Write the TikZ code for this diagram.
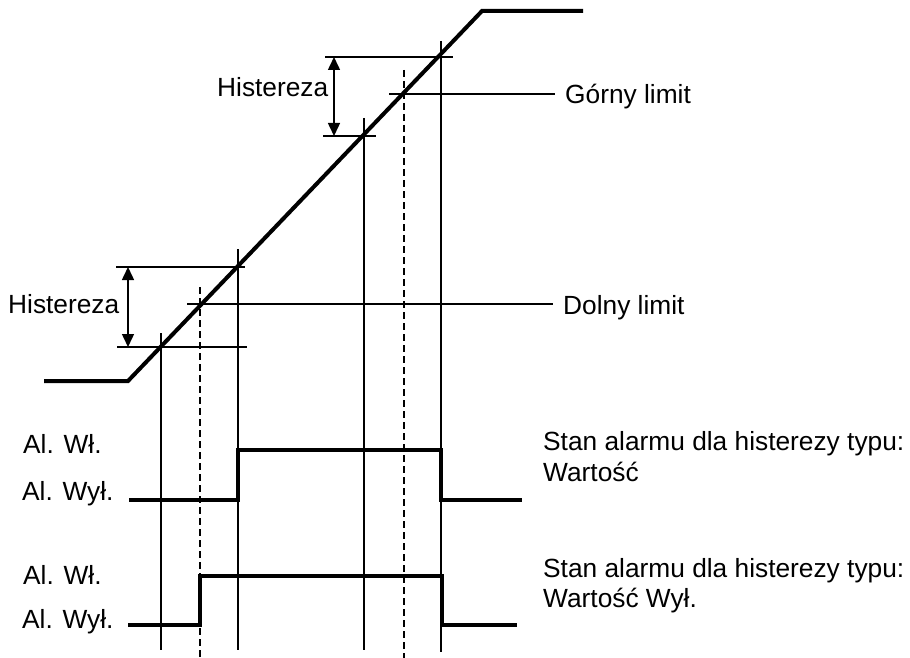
\documentclass[tikz,border=0pt]{standalone}
\usepackage{fontspec}
\setmainfont{Liberation Sans}
\usetikzlibrary{arrows.meta}
\begin{document}
\begin{tikzpicture}[x=1pt,y=-1pt,
  thin line/.style={line width=1.5pt,black},
  curve/.style={line width=4pt,black,line join=miter},
  signal/.style={line width=3.2pt,black,line join=miter},
  dash line/.style={line width=1.5pt,black,dash pattern=on 7pt off 4pt},
  dim/.style={line width=1.5pt,black,{Triangle[length=13pt,width=12pt]}-{Triangle[length=13pt,width=12pt]}},
  lbl/.style={anchor=base west,inner sep=0pt,font=\fontsize{26.3}{31}\selectfont}]
\useasboundingbox (0,0) rectangle (910,658);
% coordinates
\coordinate (c0) at (44,381);
\coordinate (c1) at (128,381);
\coordinate (c2) at (482,11);
\coordinate (c3) at (583,11);
% main curve
\draw[curve] (c0) -- (c1) -- (c2) -- (c3);
% vertical lines
\coordinate (v1t) at (161,333); \coordinate (v1b) at (161,650);
\coordinate (v2t) at (200,287); \coordinate (v2b) at (200,658);
\coordinate (v3t) at (238,249); \coordinate (v3b) at (238,650);
\coordinate (v4t) at (364,118); \coordinate (v4b) at (364,650);
\coordinate (v5t) at (404,70);  \coordinate (v5b) at (404,658);
\coordinate (v6t) at (441,41);  \coordinate (v6b) at (441,652);
\draw[thin line] (v1t) -- (v1b);
\draw[dash line] (v2t) -- (v2b);
\draw[thin line] (v3t) -- (v3b);
\draw[thin line] (v4t) -- (v4b);
\draw[dash line] (v5t) -- (v5b);
\draw[thin line] (v6t) -- (v6b);
% horizontal reference lines
\coordinate (h1a) at (325,57);  \coordinate (h1b) at (453,57);
\coordinate (h2a) at (323,136); \coordinate (h2b) at (376,136);
\coordinate (h3a) at (389,94);  \coordinate (h3b) at (555,94);
\coordinate (h4a) at (116,267); \coordinate (h4b) at (245,267);
\coordinate (h5a) at (187,304); \coordinate (h5b) at (553,304);
\coordinate (h6a) at (117,347); \coordinate (h6b) at (247,347);
\draw[thin line] (h1a) -- (h1b);
\draw[thin line] (h2a) -- (h2b);
\draw[thin line] (h3a) -- (h3b);
\draw[thin line] (h4a) -- (h4b);
\draw[thin line] (h5a) -- (h5b);
\draw[thin line] (h6a) -- (h6b);
% dimension arrows
\coordinate (d1a) at (334,57);  \coordinate (d1b) at (334,136);
\coordinate (d2a) at (128,267); \coordinate (d2b) at (128,347);
\draw[dim] (d1a) -- (d1b);
\draw[dim] (d2a) -- (d2b);
% signals
\draw[signal] (129,500) -- (238,500) -- (238,450) -- (441,450) -- (441,500) -- (522,500);
\draw[signal] (128,625) -- (200,625) -- (200,576) -- (442,576) -- (442,625) -- (517,625);
% labels
\node[lbl] (hu) at (217,97) {Histereza};
\node[lbl] (hl) at (8,313) {Histereza};
\node[lbl] (gl) at (565,104) {Górny limit};
\node[lbl] (dl) at (563,314) {Dolny limit};
\node[lbl] (w1) at (23,453) {Al. Wł.};
\node[lbl] (o1) at (22,500) {Al. Wył.};
\node[lbl] (w2) at (23,584) {Al. Wł.};
\node[lbl] (o2) at (22,628) {Al. Wył.};
\node[lbl] (s1) at (543,450) {Stan alarmu dla histerezy typu:};
\node[lbl] (s1b) at (543,481) {Wartość};
\node[lbl] (s2) at (543,577) {Stan alarmu dla histerezy typu:};
\node[lbl] (s2b) at (543,607) {Wartość Wył.};
\end{tikzpicture}
\end{document}
